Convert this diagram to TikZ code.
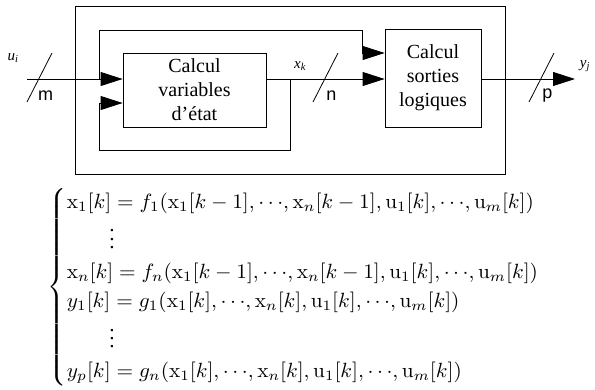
\documentclass[tikz,border=0pt]{standalone}
\usepackage{amsmath}
\usepackage[no-math]{fontspec}
\usepackage{tikz}
\usetikzlibrary{arrows.meta, positioning}
\setmainfont{Liberation Serif}
\newfontfamily\busfont{Liberation Sans}

\tikzset{
  bloc/.style={draw, line width=0.8pt, align=center, inner sep=0pt,
    font=\rmfamily\fontsize{20}{24}\selectfont},
  fleche/.style={-{Triangle[length=22pt,width=14pt]}},
  buslabel/.style={font=\busfont\fontsize{18}{20}\selectfont, inner sep=0pt},
  signal/.style={font=\rmfamily\itshape\fontsize{15}{18}\selectfont, inner sep=0pt}
}

\begin{document}
\begin{tikzpicture}[x=1pt, y=-1pt, line width=0.8pt]
  \useasboundingbox (0,0) rectangle (595,389);

  % blocks
  \node[draw, minimum width=430pt, minimum height=168pt] (cadre) at (290,90) {};
  \node[bloc, minimum width=143pt, minimum height=74pt] (etat) at (194.5,90)
    {Calcul\\variables\\d'état};
  \node[bloc, minimum width=96pt, minimum height=98pt] (sorties) at (433,78)
    {Calcul\\sorties\\logiques};

  % points
  \coordinate (entree) at (27,79);
  \coordinate (sortie) at (575,79);
  \coordinate (ju) at (99,79);
  \coordinate (jx) at (290,79);
  \coordinate (haut) at (362,30);
  \coordinate (bas) at (99,150);

  % connectors
  \draw[fleche] (entree) -- (ju -| etat.west);
  \draw[fleche] (ju) |- (haut) |- (sorties.west |- 0,53);
  \draw[fleche] (etat.east |- jx) -- (jx -| sorties.west);
  \draw[fleche] (jx) |- (bas) |- (etat.west |- 0,103);
  \draw[fleche] (sorties.east |- sortie) -- (sortie);

  % bus widths
  \foreach \x/\l in {39.5/m, 325.5/n, 541.5/p} {
    \draw (\x-12.5,102) -- (\x+12.5,53);
    \node[buslabel] (l\l) at (\x+6,96) {\l};
  }

  % signal names
  \node[signal] (ui) at (13,58) {u\textsubscript{i}};
  \node[signal] (xk) at (300,66) {x\textsubscript{k}};
  \node[signal] (yj) at (585,66) {y\textsubscript{j}};

  % equations
  \node[anchor=north west, inner sep=0pt, xscale=2.13, yscale=2.06, transform shape]
    (systeme) at (47,187) {$\begin{cases}
      \mathrm{x}_1[k]=f_1(\mathrm{x}_1[k-1],{\cdots},\mathrm{x}_n[k-1],\mathrm{u}_1[k],{\cdots},\mathrm{u}_m[k])\\
      \qquad\vdots\\
      \mathrm{x}_n[k]=f_n(\mathrm{x}_1[k-1],{\cdots},\mathrm{x}_n[k-1],\mathrm{u}_1[k],{\cdots},\mathrm{u}_m[k])\\
      y_1[k]=g_1(\mathrm{x}_1[k],{\cdots},\mathrm{x}_n[k],\mathrm{u}_1[k],{\cdots},\mathrm{u}_m[k])\\
      \qquad\vdots\\
      y_p[k]=g_n(\mathrm{x}_1[k],{\cdots},\mathrm{x}_n[k],\mathrm{u}_1[k],{\cdots},\mathrm{u}_m[k])
    \end{cases}$};
\end{tikzpicture}
\end{document}
